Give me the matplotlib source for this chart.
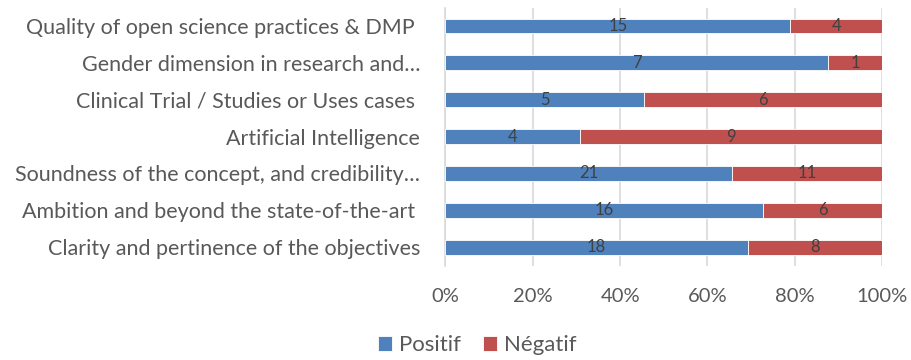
import matplotlib
matplotlib.use("Agg")
import matplotlib.pyplot as plt
import numpy as np

categories = [
    "Clarity and pertinence of the objectives",
    "Ambition and beyond the state-of-the-art ",
    "Soundness of the concept, and credibility…",
    "Artificial Intelligence",
    "Clinical Trial / Studies or Uses cases ",
    "Gender dimension in research and…",
    "Quality of open science practices & DMP ",
]
positif = [18, 16, 21, 4, 5, 7, 15]
negatif = [8, 6, 11, 9, 6, 1, 4]
x_ticks = [0, 0.2, 0.4, 0.6, 0.8, 1.0]
x_ticklabels = ["0%", "20%", "40%", "60%", "80%", "100%"]
series_names = ["Positif", "Négatif"]

plt.rcParams['font.family'] = ['Lato', 'DejaVu Sans']

fig = plt.figure(figsize=(9.12, 3.6), dpi=100)
ax = fig.add_axes([0.4883, 0.262, 0.9674 - 0.4883, 0.979 - 0.262])

pos = np.array(positif, float)
neg = np.array(negatif, float)
tot = pos + neg
pf = pos / tot
nf = neg / tot
y = np.arange(len(categories))

blue = "#4F81BD"
red = "#C0504D"
h = 0.4
b1 = ax.barh(y, pf, height=h, color=blue, edgecolor="white", linewidth=0.6, label=series_names[0], zorder=3)
b2 = ax.barh(y, nf, left=pf, height=h, color=red, edgecolor="white", linewidth=0.6, label=series_names[1], zorder=3)

for i in range(len(categories)):
    ax.text(pf[i] / 2, y[i], str(positif[i]), ha="center", va="center", fontsize=12, color="#404040", zorder=4)
    ax.text(pf[i] + nf[i] / 2, y[i], str(negatif[i]), ha="center", va="center", fontsize=12, color="#404040", zorder=4)

ax.set_xlim(0, 1)
ax.set_ylim(-0.5, len(categories) - 0.5)
ax.set_yticks(y)
ax.set_yticklabels(categories, fontsize=15.5, color="#595959")
ax.set_xticks(x_ticks)
ax.set_xticklabels(x_ticklabels, fontsize=14.5, color="#595959")
ax.tick_params(axis="both", length=0)
ax.tick_params(axis="y", pad=18)
ax.tick_params(axis="x", pad=16)
ax.grid(axis="x", color="#D9D9D9", linewidth=1.2, zorder=0)
for s in ["top", "right", "bottom"]:
    ax.spines[s].set_visible(False)
ax.spines["left"].set_color("#D9D9D9")
ax.spines["left"].set_linewidth(1.2)

leg = fig.legend(handles=[b1, b2], labels=series_names, loc="center", bbox_to_anchor=(477 / 912, 1 - 345 / 360),
                 ncol=2, frameon=False, fontsize=16, handlelength=0.65, handleheight=0.65,
                 handletextpad=0.3, columnspacing=1.0)
for t in leg.get_texts():
    t.set_color("#595959")

fig.savefig("out.png", dpi=100)
